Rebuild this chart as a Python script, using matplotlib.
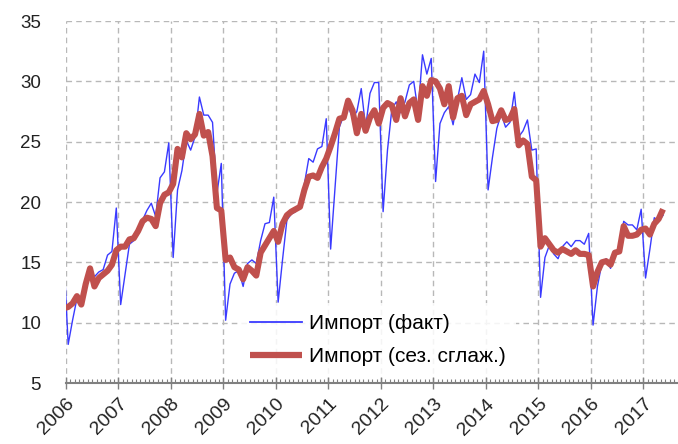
import matplotlib
matplotlib.use('Agg')
import matplotlib.pyplot as plt
from matplotlib.ticker import MultipleLocator
import numpy as np

plt.rcParams['font.family'] = ['Liberation Sans', 'DejaVu Sans']

# Месячные данные: с декабря 2005 по май 2017
start_year = 2005
start_month = 12

# Импорт (факт)
fact = [15.5,
        8.2, 10.2, 12.0, 11.7, 13.2, 14.5, 13.8, 14.2, 14.4, 15.6, 15.9, 19.5,
        11.5, 14.0, 16.5, 16.8, 17.8, 18.5, 19.3, 19.9, 18.8, 22.0, 22.5, 24.9,
        15.4, 21.0, 22.6, 25.1, 24.3, 25.4, 28.7, 27.2, 27.2, 26.6, 20.7, 23.2,
        10.2, 13.2, 14.1, 14.3, 13.0, 14.9, 15.2, 14.9, 16.8, 18.2, 18.3, 20.4,
        11.7, 15.2, 18.5, 19.0, 19.2, 19.6, 21.5, 23.6, 23.3, 24.4, 24.6, 26.9,
        16.1, 21.2, 26.2, 27.2, 27.9, 27.0, 27.5, 29.4, 26.2, 29.0, 29.9, 29.9,
        19.2, 24.3, 27.7, 28.3, 27.4, 28.3, 29.7, 30.0, 27.5, 32.2, 30.6, 31.9,
        21.7, 26.5, 27.4, 27.9, 26.4, 28.5, 30.3, 28.5, 28.9, 30.6, 29.9, 32.5,
        21.0, 23.7, 26.1, 27.3, 26.2, 26.6, 29.1, 25.4, 25.9, 26.8, 24.3, 24.4,
        12.1, 15.4, 16.4, 15.7, 15.3, 16.3, 16.7, 16.3, 16.8, 16.8, 16.5, 17.4,
        9.8, 13.0, 14.9, 15.3, 14.5, 15.9, 15.8, 18.4, 18.1, 18.1, 17.7, 19.4,
        13.7, 16.1, 18.7, 18.4, 18.9]

# Импорт (сез. сглаж.)
smooth = [11.2,
          11.3, 11.6, 12.2, 11.5, 13.2, 14.5, 13.0, 13.7, 14.0, 14.3, 14.8, 16.0,
          16.3, 16.3, 16.9, 17.0, 17.6, 18.4, 18.7, 18.6, 18.0, 19.9, 20.6, 20.8,
          21.5, 24.4, 23.7, 25.7, 25.2, 25.6, 27.3, 25.5, 25.8, 23.8, 19.5, 19.3,
          15.2, 15.4, 14.6, 14.4, 13.6, 14.6, 14.3, 13.9, 15.8, 16.4, 17.0, 17.6,
          16.7, 18.2, 18.9, 19.2, 19.4, 19.6, 21.0, 22.1, 22.2, 22.0, 22.9, 23.6,
          24.6, 25.7, 26.9, 27.0, 28.4, 27.6, 25.7, 27.3, 25.9, 27.0, 27.6, 26.5,
          27.8, 28.2, 28.0, 26.8, 28.6, 27.1, 28.2, 28.5, 26.8, 29.6, 28.8, 30.1,
          30.0, 29.4, 28.1, 29.6, 27.0, 28.6, 28.8, 27.2, 28.1, 28.3, 28.5, 29.2,
          28.1, 26.7, 26.8, 27.6, 26.8, 26.9, 27.7, 24.7, 25.1, 24.8, 22.1, 21.8,
          16.3, 17.0, 16.5, 16.0, 15.8, 16.1, 15.9, 15.7, 16.0, 15.7, 15.7, 15.6,
          13.0, 14.2, 15.0, 15.1, 14.8, 15.8, 15.9, 18.0, 17.2, 17.2, 17.3, 17.7,
          17.8, 17.3, 18.2, 18.6, 19.4]

years = list(range(2006, 2018))
yticks = [5, 10, 15, 20, 25, 30, 35]

# середина месяца
t = start_year + (start_month - 1 + 0.5) / 12 + np.arange(len(fact)) / 12

fig = plt.figure(figsize=(6.78, 4.44), dpi=100)
ax = fig.add_axes([66 / 678, 1 - 383 / 444, 1 - 66 / 678, (383 - 21) / 444])

ax.plot(t, fact, color='#3a3aff', lw=1.0, label='Импорт (факт)', zorder=3)
ax.plot(t, smooth, color='#c0504d', lw=4.4, label='Импорт (сез. сглаж.)',
        solid_joinstyle='round', solid_capstyle='butt', zorder=4)

ax.set_xlim(2006, 2017.66)
ax.set_ylim(5, 35)
ax.set_yticks(yticks)
ax.set_xticks(years)
ax.xaxis.set_minor_locator(MultipleLocator(1 / 12))

ax.grid(True, which='major', color='#b8b8b8', linestyle=(0, (4, 3)), lw=1.0)
for s in ['top', 'right', 'left']:
    ax.spines[s].set_visible(False)
ax.spines['bottom'].set_color('#808080')
ax.spines['bottom'].set_linewidth(1.5)

ax.tick_params(axis='y', length=0, pad=18, labelsize=13.5, labelcolor='#222222')
ax.tick_params(axis='x', which='major', direction='inout', length=8, width=1,
               color='#808080', labelsize=14, labelcolor='#222222', pad=5)
ax.tick_params(axis='x', which='minor', direction='in', length=3, width=0.8,
               color='#808080')
for lab in ax.get_xticklabels():
    lab.set_rotation(45)
    lab.set_ha('right')
    lab.set_va('top')
    lab.set_rotation_mode('anchor')

leg = ax.legend(loc='lower left', bbox_to_anchor=(0.283, 0.017), borderaxespad=0,
                fontsize=15, frameon=True, framealpha=0.85, edgecolor='none',
                facecolor='white', handlelength=2.5, handletextpad=0.35,
                labelspacing=0.7, borderpad=0.5)
leg.set_zorder(5)
leg.get_lines()[0].set_linewidth(1.3)
leg.get_lines()[1].set_linewidth(4.5)

fig.savefig('out.png', dpi=100)
